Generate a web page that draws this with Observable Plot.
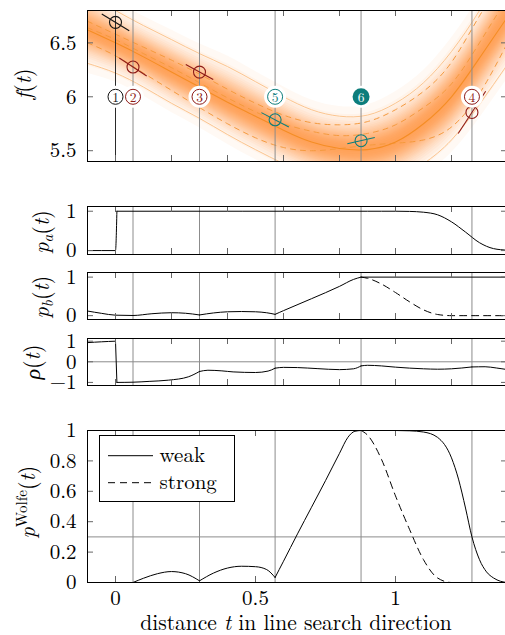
<!DOCTYPE html>
<html><head><meta charset="utf-8">
<script src="https://cdn.jsdelivr.net/npm/d3@7"></script>
<script src="https://cdn.jsdelivr.net/npm/@observablehq/plot@0.6"></script>
<style>
html,body{margin:0;padding:0;background:#fff;overflow:hidden;}
#wrap{position:relative;width:507px;height:635px;overflow:hidden;}
#wrap svg{position:absolute;left:0;top:0;}
</style></head><body><div id="wrap"></div>
<script>
// ---------- data: GP posterior on f(t) ----------
const tGrid   = [-0.1, 0, 0.1, 0.2, 0.3, 0.4, 0.5, 0.6, 0.7, 0.8, 0.9, 1.0, 1.1, 1.2, 1.3, 1.4];
const fMean   = [6.62, 6.50, 6.37, 6.23, 6.09, 5.95, 5.82, 5.69, 5.58, 5.52, 5.51, 5.58, 5.75, 6.00, 6.36, 6.74];
const fUpper  = [6.95, 6.80, 6.66, 6.53, 6.40, 6.28, 6.14, 6.00, 5.88, 5.82, 5.83, 5.94, 6.13, 6.42, 6.80, 7.25];
const fLower  = [6.31, 6.22, 6.09, 5.94, 5.80, 5.65, 5.51, 5.38, 5.27, 5.21, 5.19, 5.24, 5.38, 5.60, 5.93, 6.30];
const fSampleA = [6.70, 6.58, 6.46, 6.34, 6.21, 6.07, 5.94, 5.83, 5.76, 5.74, 5.77, 5.88, 6.05, 6.32, 6.75, 7.15];
const fSampleB = [6.64, 6.53, 6.40, 6.27, 6.13, 5.99, 5.86, 5.75, 5.68, 5.64, 5.66, 5.74, 5.90, 6.12, 6.50, 6.92];
const fSampleC = [6.50, 6.38, 6.22, 6.06, 5.90, 5.75, 5.62, 5.53, 5.50, 5.52, 5.55, 5.57, 5.60, 5.72, 6.03, 6.50];

// observations
const obsLabel = ["1", "2", "3", "4", "5", "6"];
const obsT     = [0, 0.0625, 0.30, 1.273, 0.57, 0.877];
const obsF     = [6.69, 6.276, 6.229, 5.855, 5.787, 5.593];
const obsSlope = [-1.6, -1.69, -1.42, 4.0, -1.35, 0.59];
const RED = "#8e1b17", TEAL = "#0d7d7b";
const obsColor = ["#111111", RED, RED, RED, TEAL, TEAL];
const labelF = 6.0;
const gradHalf = 0.049;

// probabilities: pieces of [t, value]
const paPieces = [
  [[-0.1,0],[0,0],[0.005,1]],
  [[0.005,1],[0.9,1],[0.95,1],[1.0,1],[1.05,0.995],[1.1,0.975],[1.15,0.91],[1.2,0.73],[1.25,0.47],[1.3,0.2],[1.35,0.05],[1.4,0.01]]
];
const pbPieces = [
  [[-0.1,0.12],[-0.05,0.06],[0,0.012],[0.0625,0.004],[0.13,0.05],[0.2,0.076],[0.25,0.062],[0.3,0.018]],
  [[0.3,0.018],[0.35,0.07],[0.4,0.1],[0.45,0.107],[0.5,0.1],[0.54,0.075],[0.57,0.034]],
  [[0.57,0.034],[0.6,0.13],[0.7,0.44],[0.8,0.76],[0.85,0.94],[0.877,1.0]],
  [[0.877,1.0],[1.4,1.0]]
];
const pbStrong = [[[0.877,1.0],[0.9,0.97],[0.95,0.82],[1.0,0.6],[1.05,0.36],[1.1,0.15],[1.15,0.03],[1.2,0.0],[1.4,0.0]]];
const rhoPieces = [
  [[-0.1,0.93],[-0.05,0.97],[0,1.0]],
  [[0,1.0],[0.005,-1.0]],
  [[0.005,-1.0],[0.0625,-0.99],[0.12,-0.95],[0.19,-0.89],[0.26,-0.73],[0.3,-0.47]],
  [[0.3,-0.47],[0.33,-0.41],[0.38,-0.44],[0.42,-0.49],[0.5,-0.52],[0.545,-0.45],[0.57,-0.31]],
  [[0.57,-0.31],[0.6,-0.27],[0.65,-0.28],[0.72,-0.33],[0.8,-0.38],[0.85,-0.34],[0.877,-0.2]],
  [[0.877,-0.2],[0.9,-0.17],[0.95,-0.2],[1.0,-0.26],[1.1,-0.34],[1.15,-0.36],[1.2,-0.34],[1.273,-0.25]],
  [[1.273,-0.25],[1.32,-0.24],[1.36,-0.3],[1.4,-0.38]]
];
const wolfeWeak = [
  [[-0.1,0],[0.0625,0]],
  [[0.0625,0],[0.1,0.028],[0.15,0.058],[0.2,0.072],[0.25,0.058],[0.3,0.011]],
  [[0.3,0.011],[0.35,0.062],[0.4,0.095],[0.45,0.107],[0.5,0.104],[0.54,0.085],[0.57,0.033]],
  [[0.57,0.033],[0.6,0.14],[0.65,0.32],[0.7,0.495],[0.75,0.67],[0.8,0.85],[0.83,0.955],[0.855,0.995],[0.877,1.0]],
  [[0.877,1.0],[0.95,1.0],[1.0,1.0],[1.05,0.998],[1.1,0.99],[1.15,0.955],[1.2,0.82],[1.225,0.68],[1.25,0.49],[1.273,0.30],[1.3,0.15],[1.325,0.07],[1.35,0.03],[1.375,0.008],[1.4,0.0]]
];
const wolfeStrong = [[[0.877,1.0],[0.9,0.97],[0.95,0.81],[1.0,0.57],[1.05,0.35],[1.1,0.15],[1.15,0.03],[1.2,0.0],[1.4,0.0]]];
const wolfeThreshold = 0.3;

// ticks
const xDomain = [-0.1, 1.4];
const xTicksMinor = [0, 0.2, 0.4, 0.6, 0.8, 1.0, 1.2];
const xTicksMain = [0, 0.5, 1];
const fTicks = [5.5, 6, 6.5];
const pTicks = [0, 1];
const rhoTicks = [-1, 0, 1];
const wolfeTicks = [0, 0.2, 0.4, 0.6, 0.8, 1];

// ---------- helpers ----------
const W = 507, H = 635, ML = 87;
const FONT = "'Latin Modern Roman', 'Liberation Serif', serif", FS = 21, LFS = 22;
const TICK = "#666", GRID = "#8c8c8c";
const flatten = pieces => pieces.flatMap((p, k) => p.map(([t, v]) => ({t, v, k})));
const fmt = d => d < 0 ? "\u2212" + Math.abs(d) : String(d);
const obs = obsLabel.map((lab, i) => ({lab, t: obsT[i], f: obsF[i], s: obsSlope[i], c: obsColor[i]}));
const obsNoZero = obs.filter(d => d.t !== 0);

function inward(xt, yt, top, bottom) {
  const fh = bottom - top, fw = W - ML, L = 6;
  return [
    Plot.tickX(xt, {x: d => d, insetBottom: fh - L, stroke: TICK}),
    Plot.tickX(xt, {x: d => d, insetTop: fh - L, stroke: TICK}),
    Plot.tickY(yt, {y: d => d, insetRight: fw - L, stroke: TICK}),
    Plot.tickY(yt, {y: d => d, insetLeft: fw - L, stroke: TICK})
  ];
}
function panel(top, bottom, yDomain, yTicks, marks, xAxis) {
  return Plot.plot({
    width: W, height: H, marginLeft: ML, marginRight: 0, marginTop: top, marginBottom: H - bottom,
    x: xAxis ? {domain: xDomain} : {domain: xDomain, axis: null},
    y: {domain: yDomain},
    color: {type: "identity"},
    style: {background: "transparent", fontFamily: FONT, fontSize: FS + "px", color: "#000", overflow: "visible"},
    marks: [
      ...marks,
      ...inward(xAxis ? xTicksMain : xTicksMinor, yTicks, top, bottom),
      Plot.frame({stroke: "#000", strokeWidth: 1}),
      Plot.axisY(yTicks, {anchor: "left", tickSize: 0, tickPadding: 11, tickFormat: fmt, label: null, fontSize: FS, fontFamily: FONT}),
      ...(xAxis ? [Plot.axisX(xTicksMain, {anchor: "bottom", tickSize: 0, tickPadding: 8, tickFormat: fmt, label: null, fontSize: FS, fontFamily: FONT})] : [])
    ]
  });
}

// ---------- panel 1: f(t) ----------
const N = 24, D0 = 0.68, sig = 0.5;
const aOp = 1 - Math.pow(1 - D0, 1 / N);
const levels = d3.range(1, N + 1).map(j => {
  const d = 1 - Math.pow(1 - aOp, j - 0.5);
  return sig * Math.sqrt(2 * Math.log(D0 / d));
});
const SHADE = "#ff8412";
const shadeMarks = levels.map(c => Plot.areaY(
  tGrid.map((t, i) => ({t, lo: fMean[i] - c * (fMean[i] - fLower[i]), hi: fMean[i] + c * (fUpper[i] - fMean[i])})),
  {x: "t", y1: "lo", y2: "hi", fill: SHADE, fillOpacity: aOp, curve: "natural", clip: true}));
const curve = arr => tGrid.map((t, i) => ({t, v: arr[i]}));

const p1 = panel(10, 161, [5.4, 6.8], fTicks, [
  ...shadeMarks,
  ...[fSampleA, fSampleB, fSampleC].map(s => Plot.line(curve(s), {x: "t", y: "v", stroke: "#f59a3e", strokeWidth: 1, strokeDasharray: "5,5", curve: "natural", clip: true})),
  ...[fUpper, fLower].map(s => Plot.line(curve(s), {x: "t", y: "v", stroke: "#fbbf86", strokeWidth: 0.9, curve: "natural", clip: true})),
  Plot.line(curve(fMean), {x: "t", y: "v", stroke: "#f58d25", strokeWidth: 1.1, curve: "natural", clip: true}),
  Plot.ruleX(obs, {x: "t", stroke: d => d.t === 0 ? "#2a2a2a" : GRID, strokeWidth: 1}),
  Plot.link(obs, {x1: d => d.t - gradHalf, x2: d => d.t + gradHalf, y1: d => d.f - gradHalf * d.s, y2: d => d.f + gradHalf * d.s, stroke: "c", strokeWidth: 1.1, clip: true}),
  Plot.dot(obs, {x: "t", y: "f", r: 6, stroke: "c", strokeWidth: 1.1, fill: "none"}),
  Plot.dot(obs, {x: "t", y: () => labelF, r: 11, fill: "white"}),
  Plot.dot(obs.filter(d => d.lab !== "6"), {x: "t", y: () => labelF, r: 7.5, stroke: "c", strokeWidth: 1, fill: "white"}),
  Plot.dot(obs.filter(d => d.lab === "6"), {x: "t", y: () => labelF, r: 8.5, fill: "c"}),
  Plot.text(obs, {x: "t", y: () => labelF, text: "lab", fill: d => d.lab === "6" ? "white" : d.c, fontSize: 13.5, fontWeight: d => d.lab === "6" ? "bold" : "normal", fontFamily: FONT, dy: 0.5})
], false);

// ---------- panel 2: p_a ----------
const p2 = panel(206, 254, [-0.1, 1.12], pTicks, [
  Plot.ruleX(obsNoZero, {x: "t", stroke: GRID}),
  Plot.line(flatten(paPieces), {x: "t", y: "v", z: "k", stroke: "#000", strokeWidth: 1, curve: "monotone-x", clip: true})
], false);

// ---------- panel 3: p_b ----------
const p3 = panel(272, 319, [-0.1, 1.12], pTicks, [
  Plot.ruleX(obsNoZero, {x: "t", stroke: GRID}),
  Plot.line(flatten(pbStrong), {x: "t", y: "v", z: "k", stroke: "#000", strokeWidth: 1, strokeDasharray: "7,5", curve: "monotone-x", clip: true}),
  Plot.line(flatten(pbPieces), {x: "t", y: "v", z: "k", stroke: "#000", strokeWidth: 1, curve: "monotone-x", clip: true})
], false);

// ---------- panel 4: rho ----------
const p4 = panel(338, 385, [-1.15, 1.13], rhoTicks, [
  Plot.ruleX(obsNoZero, {x: "t", stroke: GRID}),
  Plot.ruleY([0], {stroke: GRID}),
  Plot.line(flatten(rhoPieces), {x: "t", y: "v", z: "k", stroke: "#000", strokeWidth: 1, curve: "monotone-x", clip: true})
], false);

// ---------- panel 5: p Wolfe ----------
const p5 = panel(430, 582, [0, 1], wolfeTicks, [
  Plot.ruleX(obsNoZero, {x: "t", stroke: GRID}),
  Plot.ruleY([wolfeThreshold], {stroke: GRID}),
  Plot.line(flatten(wolfeStrong), {x: "t", y: "v", z: "k", stroke: "#000", strokeWidth: 1, strokeDasharray: "7,5", curve: "monotone-x", clip: true}),
  Plot.line(flatten(wolfeWeak), {x: "t", y: "v", z: "k", stroke: "#000", strokeWidth: 1, curve: "monotone-x", clip: true})
], true);

const wrap = document.getElementById("wrap");
[p1, p2, p3, p4, p5].forEach(p => wrap.appendChild(p));

// ---------- overlay: axis titles and legend ----------
const ov = d3.create("svg").attr("width", W).attr("height", H)
  .attr("font-family", FONT).attr("font-size", LFS);
function label(x, y, parts, rotate, size) {
  const t = ov.append("text").attr("text-anchor", "middle")
    .attr("transform", `translate(${x},${y})` + (rotate ? " rotate(-90)" : ""));
  if (size) t.attr("font-size", size);
  parts.forEach(([s, o = {}]) => {
    const sp = t.append("tspan").text(s);
    if (o.i) sp.attr("font-style", "italic");
    if (o.size) sp.attr("font-size", o.size);
    if (o.dy) sp.attr("dy", o.dy);
  });
}
label(31, 84, [["f", {i: 1}], ["("], ["t", {i: 1}], [")"]], true);
label(49, 232, [["p", {i: 1}], ["a", {i: 1, size: 15.5, dy: 4}], ["(", {dy: -4}], ["t", {i: 1}], [")"]], true);
label(49, 297, [["p", {i: 1}], ["b", {i: 1, size: 15.5, dy: 4}], ["(", {dy: -4}], ["t", {i: 1}], [")"]], true);
label(40, 362, [["\u03C1", {i: 1}], ["("], ["t", {i: 1}], [")"]], true);
label(35, 502, [["p", {i: 1}], ["Wolfe", {size: 15, dy: -8}], ["(", {dy: 8}], ["t", {i: 1}], [")"]], true);
label(296, 629.5, [["distance "], ["t", {i: 1}], [" in line search direction"]], false, 21.5);

// legend
const lg = ov.append("g").attr("font-size", FS);
lg.append("rect").attr("x", 99.5).attr("y", 435.5).attr("width", 135).attr("height", 66)
  .attr("fill", "white").attr("stroke", "#000").attr("stroke-width", 1);
const legendItems = [{name: "weak", dash: null}, {name: "strong", dash: "7,5"}];
legendItems.forEach((d, i) => {
  const y = 455.7 + i * 27;
  lg.append("line").attr("x1", 108).attr("x2", 153).attr("y1", y).attr("y2", y)
    .attr("stroke", "#000").attr("stroke-width", 1).attr("stroke-dasharray", d.dash);
  lg.append("text").attr("x", 159.5).attr("y", y + 6.5).text(d.name);
});
wrap.appendChild(ov.node());
</script></body></html>
